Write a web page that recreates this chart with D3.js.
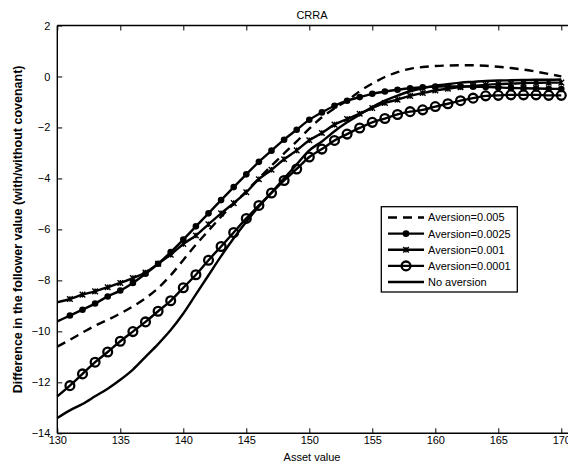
<!DOCTYPE html>
<html>
<head>
<meta charset="utf-8">
<script src="https://cdn.jsdelivr.net/npm/d3@7"></script>
<style>
  body { margin: 0; background: #fff; }
  svg { display: block; }
  text { font-family: "Liberation Sans", Arial, sans-serif; }
</style>
</head>
<body>
<svg id="chart" width="568" height="468"></svg>
<script>
// ---------- data ----------
const assetValues = d3.range(130, 171); // 130..170
const aversion005 = [-10.6,-10.33,-10.05,-9.78,-9.55,-9.3,-9.02,-8.7,-8.3,-7.8,-7.2,-6.6,-6.05,-5.5,-5.0,-4.5,-4.0,-3.5,-3.02,-2.55,-2.05,-1.6,-1.25,-0.95,-0.58,-0.28,-0.02,0.17,0.3,0.37,0.41,0.43,0.44,0.44,0.42,0.38,0.33,0.27,0.19,0.1,0.0];
const aversion0025 = [-9.61,-9.38,-9.15,-8.91,-8.63,-8.4,-8.1,-7.74,-7.35,-6.89,-6.4,-5.88,-5.37,-4.85,-4.34,-3.84,-3.35,-2.91,-2.48,-2.09,-1.7,-1.41,-1.15,-0.95,-0.81,-0.68,-0.59,-0.52,-0.46,-0.42,-0.4,-0.39,-0.39,-0.4,-0.41,-0.43,-0.45,-0.46,-0.47,-0.48,-0.49];
const aversion001 = [-8.86,-8.73,-8.56,-8.43,-8.27,-8.1,-7.91,-7.69,-7.35,-6.99,-6.57,-6.24,-5.8,-5.37,-4.97,-4.54,-4.03,-3.66,-3.25,-2.9,-2.5,-2.22,-1.89,-1.67,-1.46,-1.24,-1.04,-0.91,-0.76,-0.65,-0.55,-0.48,-0.42,-0.37,-0.33,-0.3,-0.28,-0.26,-0.25,-0.24,-0.24];
const aversion0001 = [-12.55,-12.13,-11.67,-11.21,-10.81,-10.39,-10.01,-9.63,-9.21,-8.8,-8.29,-7.78,-7.21,-6.67,-6.12,-5.57,-5.06,-4.57,-4.08,-3.63,-3.16,-2.85,-2.51,-2.26,-2.02,-1.8,-1.65,-1.49,-1.38,-1.31,-1.18,-1.07,-0.95,-0.85,-0.76,-0.74,-0.72,-0.72,-0.72,-0.74,-0.74];
const noAversion = [-13.4,-13.1,-12.85,-12.55,-12.25,-11.9,-11.5,-11.0,-10.5,-9.95,-9.3,-8.55,-7.8,-7.05,-6.35,-5.7,-5.1,-4.55,-4.0,-3.45,-2.9,-2.55,-2.15,-1.8,-1.5,-1.2,-0.95,-0.75,-0.58,-0.46,-0.36,-0.3,-0.24,-0.21,-0.18,-0.16,-0.15,-0.14,-0.13,-0.13,-0.12];
const seriesNames = ["Aversion=0.005","Aversion=0.0025","Aversion=0.001","Aversion=0.0001","No aversion"];
const xTicks = [130,135,140,145,150,155,160,165,170];
const yTicks = [2,0,-2,-4,-6,-8,-10,-12,-14];
const titleText = "CRRA";
const xLabel = "Asset value";
const yLabel = "Difference in the follower value (with/without covenant)";

// ---------- layout ----------
const svg = d3.select("#chart");
const plotLeft = 57.3, plotTop = 25.5, plotBottom = 433.3;
const x = d3.scaleLinear().domain([130, 170]).range([plotLeft, 561.3]);
const y = d3.scaleLinear().domain([-14, 2]).range([plotBottom, plotTop]);
const rightEdge = 569;

const series = [
  {name: seriesNames[0], values: aversion005, dash: "9,6", marker: "none"},
  {name: seriesNames[1], values: aversion0025, dash: null, marker: "dot"},
  {name: seriesNames[2], values: aversion001, dash: null, marker: "cross"},
  {name: seriesNames[3], values: aversion0001, dash: null, marker: "circle"},
  {name: seriesNames[4], values: noAversion, dash: null, marker: "none"}
];

const line = d3.line().x((d, i) => x(assetValues[i])).y(d => y(d)).curve(d3.curveMonotoneX);

function drawMarker(g, type, cx, cy) {
  if (type === "dot") {
    g.append("circle").attr("cx", cx).attr("cy", cy).attr("r", 3.3).attr("fill", "#000");
  } else if (type === "circle") {
    g.append("circle").attr("cx", cx).attr("cy", cy).attr("r", 4.4)
      .attr("fill", "none").attr("stroke", "#000").attr("stroke-width", 2.3);
  } else if (type === "cross") {
    const s = 2.8;
    g.append("path").attr("d", `M${cx-s},${cy-s}L${cx+s},${cy+s}M${cx-s},${cy+s}L${cx+s},${cy-s}M${cx},${cy-s}L${cx},${cy+s}`)
      .attr("stroke", "#000").attr("stroke-width", 1.4).attr("fill", "none");
  }
}

// lines
const plot = svg.append("g");
series.forEach(s => {
  plot.append("path").datum(s.values).attr("d", line)
    .attr("fill", "none").attr("stroke", "#000").attr("stroke-width", 2.4)
    .attr("stroke-dasharray", s.dash);
  if (s.marker !== "none") {
    const mg = plot.append("g");
    s.values.forEach((v, i) => {
      if (assetValues[i] >= 131) drawMarker(mg, s.marker, x(assetValues[i]), y(v));
    });
  }
});

// axes frame
const axisG = svg.append("g").attr("stroke", "#000").attr("stroke-width", 1.4).attr("fill", "none");
axisG.append("line").attr("x1", plotLeft).attr("x2", rightEdge).attr("y1", plotTop).attr("y2", plotTop);
axisG.append("line").attr("x1", plotLeft).attr("x2", rightEdge).attr("y1", plotBottom).attr("y2", plotBottom);
axisG.append("line").attr("x1", plotLeft).attr("x2", plotLeft).attr("y1", plotTop).attr("y2", plotBottom);

// ticks (inward) using d3 axes
const xAxisB = d3.axisBottom(x).tickValues(xTicks).tickSizeInner(-5).tickSizeOuter(0).tickPadding(3);
const gxb = svg.append("g").attr("transform", `translate(0,${plotBottom})`).call(xAxisB);
gxb.select(".domain").remove();
const xAxisT = d3.axisTop(x).tickValues(xTicks).tickSizeInner(-5).tickSizeOuter(0).tickFormat("");
const gxt = svg.append("g").attr("transform", `translate(0,${plotTop})`).call(xAxisT);
gxt.select(".domain").remove();
const yAxisL = d3.axisLeft(y).tickValues(yTicks).tickSizeInner(-5).tickSizeOuter(0).tickPadding(7)
  .tickFormat(d => d < 0 ? "\u2212" + Math.abs(d) : d);
const gyl = svg.append("g").attr("transform", `translate(${plotLeft},0)`).call(yAxisL);
gyl.select(".domain").remove();
svg.selectAll(".tick line").attr("stroke", "#000").attr("stroke-width", 1);
svg.selectAll(".tick text").attr("font-size", 11).attr("fill", "#000")
  .style("font-family", '"Liberation Sans", Arial, sans-serif');

// title & labels
svg.append("text").attr("x", 312).attr("y", 18.5).attr("text-anchor", "middle")
  .attr("font-size", 11).text(titleText);
svg.append("text").attr("x", 312).attr("y", 460.5).attr("text-anchor", "middle")
  .attr("font-size", 11).text(xLabel);
svg.append("text").attr("transform", `translate(22,${(plotTop + plotBottom) / 2}) rotate(-90)`)
  .attr("text-anchor", "middle").attr("font-size", 12.5).attr("font-weight", "bold").text(yLabel);

// legend
const lg = svg.append("g");
lg.append("rect").attr("x", 381.3).attr("y", 206.7).attr("width", 136).attr("height", 85.3)
  .attr("fill", "#fff").attr("stroke", "#000").attr("stroke-width", 1.3);
const rowY = d3.scaleLinear().domain([0, 4]).range([217.5, 282]);
series.forEach((s, i) => {
  const yy = rowY(i);
  lg.append("line").attr("x1", 388).attr("x2", 424).attr("y1", yy).attr("y2", yy)
    .attr("stroke", "#000").attr("stroke-width", 2.4).attr("stroke-dasharray", s.dash);
  if (s.marker !== "none") drawMarker(lg, s.marker, 406, yy);
  lg.append("text").attr("x", 428).attr("y", yy).attr("dy", "0.36em")
    .attr("font-size", 11).text(s.name);
});
</script>
</body>
</html>
